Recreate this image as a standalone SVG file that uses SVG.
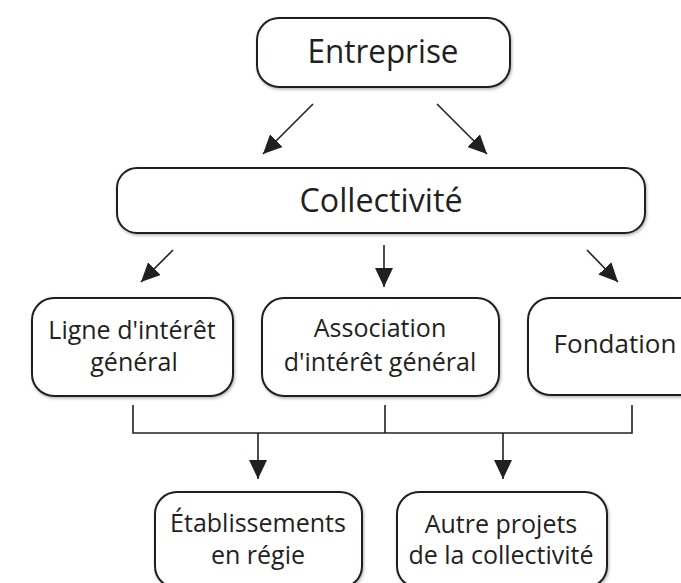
<svg xmlns="http://www.w3.org/2000/svg" width="681" height="583" viewBox="0 0 681 583">
<defs>
<filter id="sh" x="-10%" y="-10%" width="120%" height="130%">
<feDropShadow dx="1" dy="1.5" stdDeviation="1.5" flood-color="#000" flood-opacity="0.3"/>
</filter>
<marker id="ah" markerWidth="19" markerHeight="18" refX="19" refY="9" orient="auto" markerUnits="userSpaceOnUse">
<path d="M0,0 L19,9 L0,18 Z" fill="#231f20"/>
</marker>
<style>
.box{fill:#fff;stroke:#231f20;stroke-width:2;filter:url(#sh)}
.t{font-family:"Open Sans","Noto Sans",sans-serif;fill:#231f20;text-anchor:middle}
.big{font-size:33px}
.n{font-size:25px}
.f{font-size:26px}
.c{fill:none;stroke:#231f20;stroke-width:1.6}
</style>
</defs>
<rect width="681" height="583" fill="#fff"/>
<g id="connectors">
<line class="c" x1="313" y1="104" x2="263" y2="154" marker-end="url(#ah)"/>
<line class="c" x1="437" y1="104" x2="487" y2="154" marker-end="url(#ah)"/>
<line class="c" x1="173" y1="250" x2="141" y2="282" marker-end="url(#ah)"/>
<line class="c" x1="384" y1="245" x2="384" y2="287" marker-end="url(#ah)"/>
<line class="c" x1="587" y1="250" x2="618" y2="282" marker-end="url(#ah)"/>
<polyline class="c" points="133,405 133,433 632,433 632,405"/>
<line class="c" x1="385" y1="405" x2="385" y2="433"/>
<line class="c" x1="258" y1="433" x2="258" y2="479" marker-end="url(#ah)"/>
<line class="c" x1="503" y1="433" x2="503" y2="479" marker-end="url(#ah)"/>
</g>
<g id="entreprise">
<rect class="box" x="257" y="18" width="253" height="69" rx="22"/>
<text class="t big" x="383" y="63" textLength="151" lengthAdjust="spacingAndGlyphs">Entreprise</text>
</g>
<g id="collectivite">
<rect class="box" x="117" y="168" width="528" height="65" rx="20"/>
<text class="t big" x="381" y="212" textLength="163" lengthAdjust="spacingAndGlyphs">Collectivité</text>
</g>
<g id="ligne">
<rect class="box" x="32" y="298" width="201" height="98" rx="22"/>
<text class="t n" x="132" y="339">Ligne d'intérêt</text>
<text class="t n" x="134" y="371">général</text>
</g>
<g id="association">
<rect class="box" x="262" y="298" width="237" height="98" rx="22"/>
<text class="t n" x="380" y="337">Association</text>
<text class="t n" x="380" y="371">d'intérêt général</text>
</g>
<g id="fondation">
<rect class="box" x="528" y="298" width="182" height="97" rx="22"/>
<text class="t f" x="615" y="353">Fondation</text>
</g>
<g id="etablissements">
<rect class="box" x="155" y="492" width="207" height="96" rx="22"/>
<text class="t n" x="258" y="532">Établissements</text>
<text class="t n" x="258" y="564">en régie</text>
</g>
<g id="autre">
<rect class="box" x="397" y="492" width="210" height="96" rx="22"/>
<text class="t n" x="501" y="533">Autre projets</text>
<text class="t n" x="501" y="564">de la collectivité</text>
</g>
</svg>
